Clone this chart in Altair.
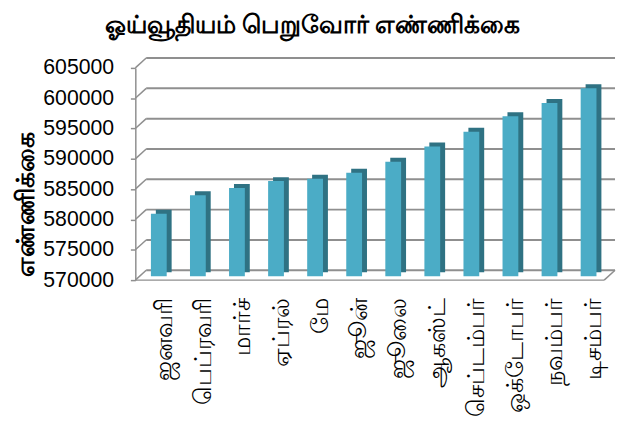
import altair as alt
import pandas as pd

months = ["ஜனவரி", "பெப்ரவரி", "மார்ச்", "ஏப்ரல்", "மே", "ஜூன்",
          "ஜூலை", "ஆகஸ்ட்", "செப்டம்பர்", "ஒக்டோபர்", "நவம்பர்", "டிசம்பர்"]
values = [580300, 583350, 584540, 585680, 586070, 587050,
          588890, 591380, 593830, 596380, 598550, 601000]
ticks = [570000, 575000, 580000, 585000, 590000, 595000, 600000, 605000]
title_text = "ஓய்வூதியம் பெறுவோர் எண்ணிக்கை"
ytitle = "எண்ணிக்கை"

W, H = 475, 215
DX, DY = 11, -10
GRID = "#8F8F8F"

df = pd.DataFrame({"m": months, "v": values})
gdf = pd.DataFrame({"v": ticks})
floor = pd.DataFrame({"v": [ticks[0]]})

yscale = alt.Scale(domain=[ticks[0], ticks[-1]], zero=False, nice=False)
xscale = alt.Scale(paddingInner=0.6, paddingOuter=0.3)

yaxis = alt.Axis(values=ticks, format="d", title=ytitle, labelOverlap=False,
                 grid=False, domain=True, domainColor=GRID, domainWidth=1.5,
                 tickColor=GRID, tickSize=5, tickWidth=1.5,
                 labelFont="Liberation Sans", labelFontSize=21.5,
                 labelColor="#000000", labelPadding=17,
                 titleFont="Noto Sans", titleFontSize=25, titleFontWeight="bold",
                 titleColor="#000000", titleAngle=270,
                 titleX=-111, titleY=138, titleAlign="center",
                 titleBaseline="middle")
xaxis = alt.Axis(title=None, labelAngle=270, domain=False, ticks=False,
                 labelOverlap=False,
                 labelFont="Noto Sans", labelFontSize=24,
                 labelColor="#000000", labelPadding=18, labelOffset=10)

Y = alt.Y("v:Q", scale=yscale, axis=yaxis)
X = alt.X("m:N", sort=months, scale=xscale, axis=xaxis)

# back wall gridlines (front y axis carried by all layers)
back = alt.Chart(gdf).mark_rule(color=GRID, strokeWidth=2, yOffset=DY).encode(
    y=Y, x=alt.value(DX), x2=alt.value(W + DX),
)
# left wall diagonals
diag = alt.Chart(gdf).mark_rule(color=GRID, strokeWidth=1.5, y2Offset=DY).encode(
    y=Y, y2="v:Q", x=alt.value(0), x2=alt.value(DX),
)
# floor front edge
ffront = alt.Chart(floor).mark_rule(color=GRID, strokeWidth=1.5).encode(
    y=Y, x=alt.value(0), x2=alt.value(W),
)
# floor right diagonal
fright = alt.Chart(floor).mark_rule(color=GRID, strokeWidth=1.5, y2Offset=DY).encode(
    y=Y, y2="v:Q", x=alt.value(W), x2=alt.value(W + DX),
)

shadow = alt.Chart(df).mark_bar(size=16, color="#2F7283", xOffset=9,
                                 yOffset=-8, y2Offset=-8).encode(
    x=X, y=Y, y2=alt.datum(ticks[0]),
)
front = alt.Chart(df).mark_bar(size=16, color="#4BACC6", xOffset=4,
                                yOffset=-4, y2Offset=-4).encode(
    x=X, y=Y, y2=alt.datum(ticks[0]),
)

chart = alt.layer(back, diag, ffront, fright, shadow, front).properties(
    width=W, height=H,
    padding={"left": 129, "top": 58, "right": 12, "bottom": 137},
    autosize=alt.AutoSizeParams(type="none"),
    title=alt.TitleParams(title_text, font="Noto Sans", fontSize=25, fontWeight="bold",
                          color="#000000", anchor="middle", frame="group",
                          dx=-58, offset=19),
).configure_view(stroke=None)

chart.save("out.html", embed_options={"renderer": "svg", "actions": False})
